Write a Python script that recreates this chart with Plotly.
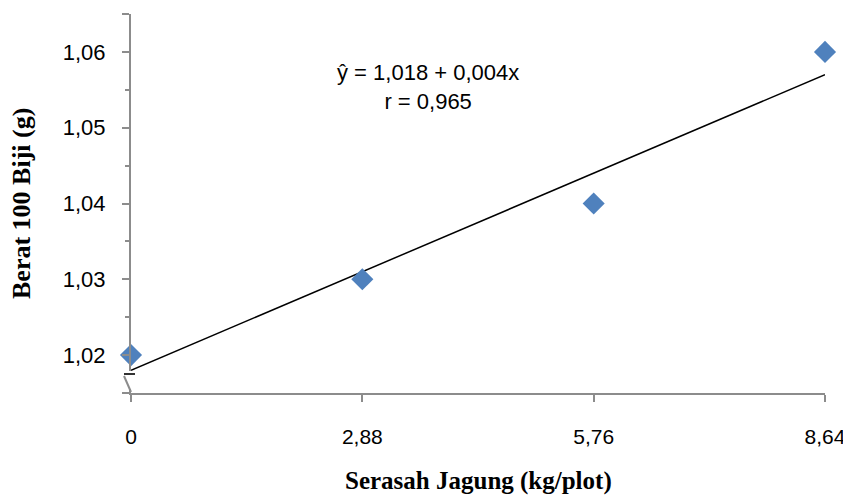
import numpy as np
import plotly.graph_objects as go

x_vals = [0, 2.88, 5.76, 8.64]
y_vals = [1.02, 1.03, 1.04, 1.06]
x_ticktext = ["0", "2,88", "5,76", "8,64"]
y_tickvals = [1.015, 1.02, 1.03, 1.04, 1.05, 1.06, 1.065]
y_ticktext = ["", "1,02", "1,03", "1,04", "1,05", "1,06", ""]
y_minor = [1.025, 1.035, 1.045, 1.055]
eq_text = "ŷ = 1,018 + 0,004x<br>r = 0,965"

slope, intercept = np.polyfit(x_vals, y_vals, 1)
line_x = [x_vals[0], x_vals[-1]]
line_y = [intercept + slope * v for v in line_x]

fig = go.Figure()
fig.add_trace(go.Scatter(x=line_x, y=line_y, mode="lines",
                         line=dict(color="black", width=1.5),
                         showlegend=False, cliponaxis=False))
fig.add_trace(go.Scatter(x=x_vals, y=y_vals, mode="markers",
                         marker=dict(symbol="diamond", size=17, color="#4F81BD",
                                     line=dict(width=0)),
                         showlegend=False, cliponaxis=False))

axis_col = "#8c8c8c"
OFF = 8  # page body margin
W, H = 851 - OFF, 496 - OFF
# plot area in page pixels: x 131..825, y 14..393
L, T = 131 - OFF, 14 - OFF
R = W - (825 - OFF)
B = H - (393 - OFF)
pw, ph = W - L - R, H - T - B

def px(xp):
    return (xp - 131) / pw

def py(yp):
    return (393 - yp) / ph

fig.update_layout(
    width=W, height=H,
    margin=dict(l=L, r=R, t=T, b=B, autoexpand=False),
    paper_bgcolor="white", plot_bgcolor="white",
    font=dict(family="Liberation Sans", size=21, color="black"),
    xaxis=dict(range=[0, 8.64], tickvals=x_vals, ticktext=x_ticktext,
               automargin=False,
               showgrid=False, zeroline=False, showline=True,
               linecolor=axis_col, linewidth=2, ticks="outside",
               ticklen=7, tickcolor=axis_col, tickwidth=2,
               ticklabelstandoff=17,
               tickfont=dict(family="Liberation Sans", size=21)),
    yaxis=dict(range=[1.015, 1.065], tickvals=y_tickvals, ticktext=y_ticktext,
               automargin=False,
               showgrid=False, zeroline=False, showline=True,
               linecolor=axis_col, linewidth=2, ticks="outside",
               ticklen=7, tickcolor=axis_col, tickwidth=2,
               ticklabelstandoff=12,
               minor=dict(tickvals=y_minor, ticks="outside", ticklen=4,
                          tickcolor=axis_col, tickwidth=2),
               tickfont=dict(family="Liberation Sans", size=22)),
    annotations=[
        dict(text=eq_text, x=px(428), y=py(87), xref="paper", yref="paper",
             xanchor="center", yanchor="middle",
             showarrow=False, align="center",
             font=dict(family="Liberation Sans", size=22)),
        dict(text="<b>Serasah Jagung (kg/plot)</b>", x=px(478), y=py(481),
             xref="paper", yref="paper", xanchor="center", yanchor="middle",
             showarrow=False,
             font=dict(family="Liberation Serif", size=25)),
        dict(text="<b>Berat 100 Biji (g)</b>", x=px(21), y=py(204),
             xref="paper", yref="paper", xanchor="center", yanchor="middle",
             showarrow=False, textangle=-90,
             font=dict(family="Liberation Serif", size=26)),
    ],
    shapes=[
        dict(type="rect", xref="paper", yref="paper",
             x0=px(127), x1=px(135), y0=py(389), y1=py(371),
             fillcolor="white", line=dict(width=0), layer="above"),
        dict(type="line", xref="paper", yref="paper",
             x0=px(124), x1=px(135), y0=py(374), y1=py(374),
             line=dict(color="#333333", width=2), layer="above"),
        dict(type="line", xref="paper", yref="paper",
             x0=px(124), x1=px(131), y0=py(376), y1=py(392),
             line=dict(color=axis_col, width=2), layer="above"),
    ],
)

fig.write_html("out.html")
